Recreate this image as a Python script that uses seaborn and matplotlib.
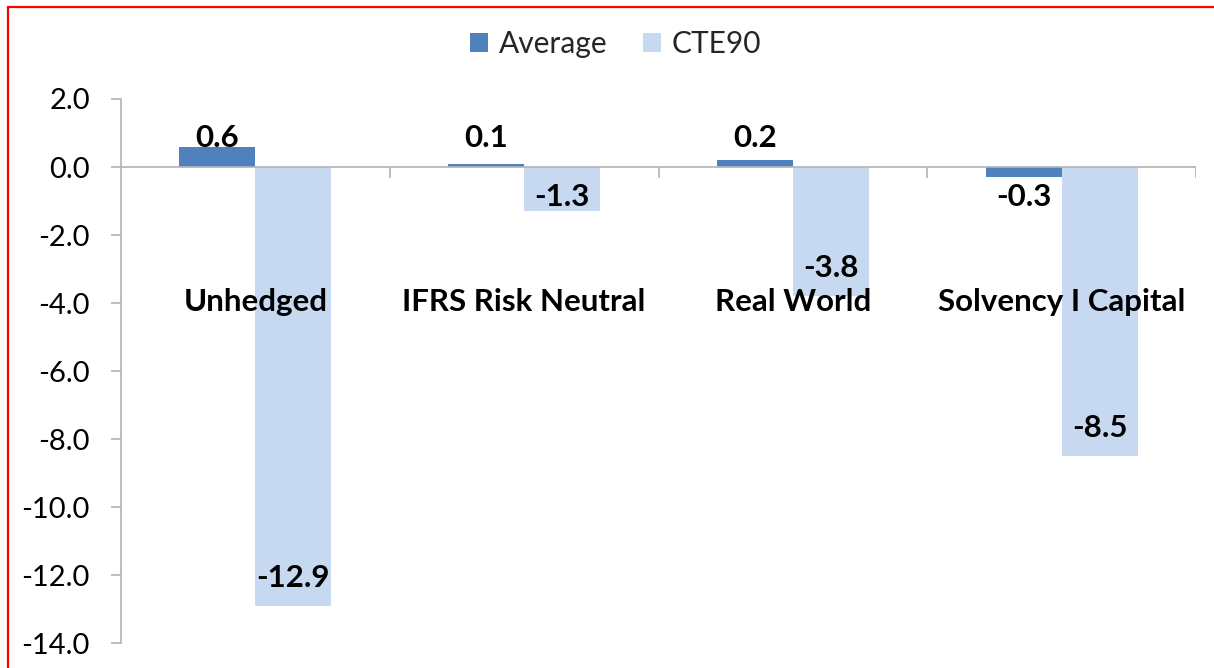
import matplotlib

matplotlib.use("Agg")
import matplotlib.pyplot as plt
import pandas as pd
import seaborn as sns
from matplotlib.lines import Line2D

CATEGORIES = ["Unhedged", "IFRS Risk Neutral", "Real World", "Solvency I Capital"]
SERIES = ["Average", "CTE90"]
AVERAGE = [0.6, 0.1, 0.2, -0.3]
CTE90 = [-12.9, -1.3, -3.8, -8.5]
Y_TICKS = [2, 0, -2, -4, -6, -8, -10, -12, -14]

COLORS = ["#4F81BD", "#C6D9F1"]
AXIS_GREY = "#B3B3B3"

df = pd.DataFrame(
    {
        "category": CATEGORIES * 2,
        "series": [SERIES[0]] * len(CATEGORIES) + [SERIES[1]] * len(CATEGORIES),
        "value": AVERAGE + CTE90,
    }
)

sns.set_theme(style="white")
plt.rcParams["font.family"] = ["Lato", "DejaVu Sans"]
plt.rcParams["axes.unicode_minus"] = False

fig = plt.figure(figsize=(12.14, 6.68), dpi=100)
ax = fig.add_axes([0.0997, 0.0374, 0.8855, 0.8144])

sns.barplot(
    data=df,
    x="category",
    y="value",
    hue="series",
    palette=COLORS,
    width=0.566,
    gap=0,
    saturation=1,
    linewidth=0,
    ax=ax,
)

ax.set_xlim(-0.5, len(CATEGORIES) - 0.5)
ax.set_ylim(min(Y_TICKS), max(Y_TICKS))
ax.set_yticks(Y_TICKS)
ax.set_yticklabels([f"{t:.1f}" for t in Y_TICKS])
ax.set_xticks([])
ax.set_xlabel("")
ax.set_ylabel("")

for side in ["top", "right", "bottom"]:
    ax.spines[side].set_visible(False)
ax.spines["left"].set_color(AXIS_GREY)
ax.spines["left"].set_linewidth(1.2)
ax.tick_params(
    axis="y", which="major", direction="out", length=7.5, width=1.2,
    color=AXIS_GREY, pad=15, labelsize=21, labelcolor="black", left=True,
)

# zero line with category separator ticks
ax.axhline(0, color=AXIS_GREY, linewidth=1.2, zorder=1)
bounds = [i + 0.5 for i in range(len(CATEGORIES))]
ax.vlines(bounds, -0.32, 0, color=AXIS_GREY, linewidth=1.2, zorder=1)

# data labels
def label_y(v):
    if abs(v) < 2:
        return 0.85 if v > 0 else -0.88
    return v + 0.82 if v < 0 else v - 0.82

offset = 0.566 / 4
for vals, dx in [(AVERAGE, -offset), (CTE90, offset)]:
    for i, v in enumerate(vals):
        ax.text(
            i + dx, label_y(v), f"{v:.1f}",
            ha="center", va="center", fontsize=22.5, fontweight="bold",
            color="black", zorder=5,
        )

# category labels drawn inside the plot
for i, cat in enumerate(CATEGORIES):
    ax.text(
        i, -3.97, cat, ha="center", va="center", fontsize=22.5,
        fontweight="bold", color="black", zorder=5,
    )

handles, labels = ax.get_legend_handles_labels()
ax.legend(
    handles, labels, loc="center", bbox_to_anchor=(0.507, 0.934),
    bbox_transform=fig.transFigure, ncol=2, frameon=False, fontsize=21.5,
    handlelength=0.62, handleheight=0.62, handletextpad=0.35,
    columnspacing=1.2,
)

# red frame at top and left edges
fig.add_artist(Line2D([7.5 / 1214, 1], [1 - 6.5 / 668] * 2, color="red", linewidth=1.6))
fig.add_artist(Line2D([7.5 / 1214] * 2, [0, 1 - 6.5 / 668], color="red", linewidth=1.6))

fig.savefig("out.png", dpi=100)
